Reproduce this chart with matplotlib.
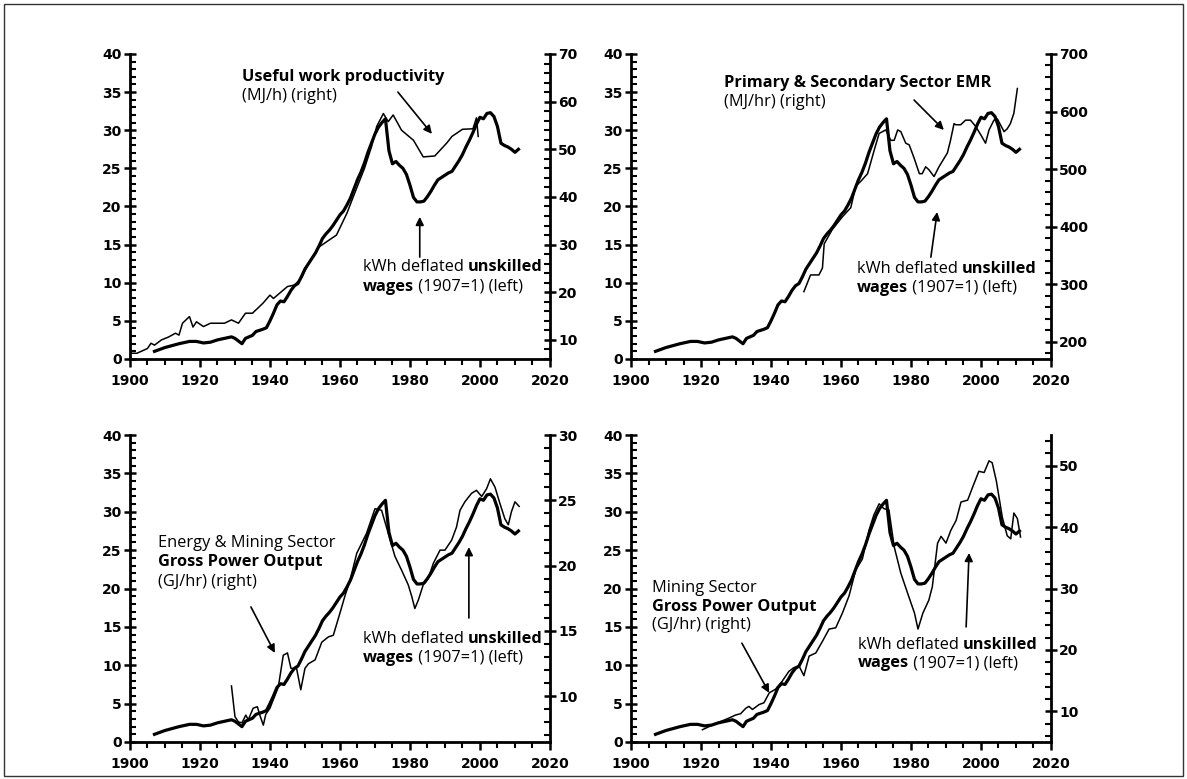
import matplotlib
matplotlib.use("Agg")
import matplotlib.pyplot as plt
from matplotlib.ticker import MultipleLocator
from matplotlib.patches import Rectangle

# kWh deflated unskilled wages (1907=1), left axis, same series in all panels
wage_years = [1907, 1910, 1914, 1917, 1919, 1921, 1923, 1925, 1927, 1929, 1930, 1932,
              1933, 1935, 1936, 1938, 1939, 1940, 1941, 1942, 1943, 1944, 1945, 1946,
              1947, 1948, 1949, 1950, 1951, 1952, 1953, 1954, 1955, 1956, 1957, 1958,
              1959, 1960, 1961, 1962, 1963, 1964, 1965, 1966, 1967, 1968, 1969, 1970,
              1971, 1972, 1973, 1974, 1975, 1976, 1977, 1978, 1979, 1980, 1981, 1982,
              1983, 1984, 1985, 1986, 1987, 1988, 1989, 1990, 1991, 1992, 1993, 1994,
              1995, 1996, 1997, 1998, 1999, 2000, 2001, 2002, 2003, 2004, 2005, 2006,
              2007, 2008, 2009, 2010, 2011]
wages = [1.0, 1.5, 2.0, 2.3, 2.3, 2.1, 2.2, 2.5, 2.7, 2.9, 2.7, 2.0,
         2.7, 3.1, 3.6, 3.9, 4.1, 5.0, 6.0, 7.1, 7.6, 7.5, 8.2, 9.0,
         9.6, 9.9, 10.8, 11.8, 12.5, 13.2, 13.9, 14.8, 15.8, 16.4, 16.9, 17.5,
         18.2, 18.9, 19.4, 20.2, 21.1, 22.3, 23.5, 24.5, 25.7, 27.1, 28.3, 29.5,
         30.4, 31.0, 31.5, 27.3, 25.6, 25.9, 25.4, 25.0, 24.2, 22.8, 21.2, 20.6,
         20.6, 20.7, 21.3, 22.0, 22.8, 23.5, 23.8, 24.1, 24.4, 24.6, 25.3, 26.0,
         26.8, 27.8, 28.7, 29.7, 30.8, 31.7, 31.5, 32.2, 32.3, 31.8, 30.5, 28.3,
         28.0, 27.8, 27.5, 27.1, 27.5]

# Useful work productivity (MJ/h), right axis
uw_years = [1900, 1902, 1905, 1906, 1907, 1909, 1911, 1913, 1914, 1915, 1917, 1918,
            1919, 1921, 1923, 1927, 1929, 1931, 1933, 1935, 1938, 1940, 1941, 1945,
            1947, 1949, 1951, 1954, 1957, 1959, 1962, 1964, 1967, 1969, 1970.5, 1972.4,
            1973.8, 1975.2, 1977.6, 1981, 1983.8, 1987.1, 1990.5, 1992, 1995, 1998,
            1999, 1999.5]
useful_work = [7.2, 7.2, 8.2, 9.3, 8.9, 10.0, 10.6, 11.4, 11.0, 13.5, 14.9, 12.7,
               13.8, 12.8, 13.5, 13.5, 14.2, 13.5, 15.6, 15.6, 17.7, 19.4, 18.7, 21.2,
               21.5, 23.0, 26.0, 29.5, 31.0, 32.0, 36.6, 40.4, 46.0, 50.5, 54.8, 57.5,
               55.8, 57.2, 54.0, 51.9, 48.4, 48.6, 51.3, 52.7, 54.2, 54.3, 56.6, 52.7]

# Primary & Secondary Sector EMR (MJ/hr), right axis
emr_years = [1949.4, 1951.3, 1953.7, 1954.7, 1955.2, 1957.5, 1960.4, 1962.8, 1964.2,
             1965.7, 1967.6, 1969.5, 1970.9, 1972.8, 1974.2, 1975.2, 1976.2, 1977.1,
             1978.5, 1979.5, 1980.9, 1982.4, 1983.2, 1984.2, 1985.1, 1986.6, 1988,
             1990.4, 1991.3, 1992.3, 1992.8, 1994.2, 1995.6, 1997, 1998.5, 1999.9,
             2001.3, 2002.3, 2003.7, 2004.7, 2006.6, 2007.5, 2008.4, 2009.4, 2010.4]
emr = [287, 316, 316, 328, 370, 395, 417, 433, 470,
       479, 492, 533, 562, 568, 550, 550, 568, 565,
       545, 542, 519, 492, 492, 504, 499, 487, 504,
       528, 550, 579, 577, 577, 585, 585, 574, 560,
       545, 568, 585, 587, 565, 570, 579, 597, 640]

# Energy & Mining Sector gross power output (GJ/hr), right axis
em_years = [1929, 1930, 1931, 1932, 1933.1, 1933.8, 1935.2, 1936.4, 1937.1, 1938.1,
            1938.8, 1940, 1942.4, 1943.8, 1945, 1946, 1947.6, 1948.8, 1950, 1951,
            1952.9, 1954.8, 1956.7, 1958.1, 1960, 1961.4, 1962.9, 1964.8, 1967.6, 1970,
            1971.9, 1973.8, 1975.7, 1977.6, 1979.5, 1980.5, 1981.4, 1982.4, 1983.8,
            1985.2, 1986.7, 1988.6, 1990, 1991.9, 1993.3, 1994.3, 1995.7, 1997.6, 1999,
            2000.5, 2001.9, 2003, 2004.3, 2005.7, 2007.1, 2008.1, 2009, 2010, 2011.2]
energy_mining = [10.79, 8.44, 8.03, 7.97, 8.56, 8.20, 9.09, 9.20, 8.56, 7.79,
                 8.62, 9.09, 10.73, 13.14, 13.32, 12.14, 12.14, 10.50, 12.14, 12.49,
                 12.79, 14.14, 14.55, 14.67, 16.37, 17.66, 18.90, 20.95, 22.48, 24.36,
                 24.24, 22.48, 20.72, 19.66, 18.54, 17.66, 16.72, 17.37, 18.54,
                 19.01, 20.19, 21.19, 21.19, 21.95, 22.95, 24.24, 24.89, 25.54, 25.77,
                 25.30, 25.89, 26.65, 26.01, 24.77, 23.60, 23.13, 24.13, 24.89, 24.54]

# Mining Sector gross power output (GJ/hr), right axis
mn_years = [1920.4, 1924.2, 1928, 1929.9, 1931.3, 1932.8, 1933.7, 1934.7, 1936.6, 1938,
            1939.5, 1941.3, 1943.2, 1945.1, 1946.5, 1948, 1949.4, 1950.9, 1952.8, 1954.7,
            1956.6, 1958.5, 1960.4, 1962.3, 1964.2, 1966.1, 1968, 1969.4, 1970.9, 1972.3,
            1973.7, 1975.2, 1977.1, 1979, 1981, 1982, 1983.4, 1985.1, 1986.1, 1987.6,
            1988.6, 1990, 1991.4, 1992.9, 1994.3, 1996.2, 1997.6, 1999.4, 2000.9, 2002.3,
            2003.2, 2004.4, 2006.1, 2007.5, 2008.5, 2009.4, 2010.4, 2011.3]
mining = [7.0, 8.0, 8.9, 9.4, 9.6, 10.5, 10.8, 10.3, 11.1, 11.4,
          13.0, 13.6, 14.9, 16.5, 17.1, 17.4, 15.8, 19.0, 19.5, 21.4,
          23.4, 23.6, 26.0, 28.8, 33.0, 34.8, 39.5, 42.0, 43.8, 43.0,
          42.8, 36.8, 32.5, 29.3, 26.0, 23.4, 26.0, 28.1, 30.3, 37.4,
          38.5, 37.4, 39.5, 41.1, 44.1, 44.4, 46.5, 49.1, 48.9, 50.8,
          50.5, 47.5, 41.6, 38.6, 38.1, 42.3, 41.4, 38.4]

FONT = "Open Sans"
FS = 11.8
plt.rcParams["font.family"] = "DejaVu Sans"

fig = plt.figure(figsize=(11.87, 7.79), dpi=100)
fig.patches.append(Rectangle((0.003, 0.004), 0.994, 0.991, transform=fig.transFigure,
                             fill=False, lw=1.0, ec="#333333"))

positions = [[0.1095, 0.5392, 0.3538, 0.3915],
             [0.5316, 0.5392, 0.3538, 0.3915],
             [0.1095, 0.0475, 0.3538, 0.3940],
             [0.5316, 0.0475, 0.3538, 0.3940]]


def style_axis(ax):
    ax.spines["top"].set_visible(False)
    for s in ["left", "right", "bottom"]:
        ax.spines[s].set_linewidth(2.0)
    ax.tick_params(axis="y", which="major", direction="inout", length=8, width=1.8,
                   labelsize=10, pad=2)
    ax.tick_params(axis="y", which="minor", direction="in", length=4, width=1.5)
    ax.tick_params(axis="x", which="major", direction="out", length=6, width=1.8,
                   labelsize=10, pad=5)
    ax.tick_params(axis="x", which="minor", direction="out", length=4, width=1.5)
    for lab in ax.get_xticklabels() + ax.get_yticklabels():
        lab.set_fontweight("bold")


def panel(pos, years, series, rlim, rmajor, rminor):
    ax = fig.add_axes(pos)
    ax.plot(wage_years, wages, color="black", lw=2.3, solid_joinstyle="round")
    ax.set_xlim(1900, 2020)
    ax.set_ylim(0, 40)
    ax.xaxis.set_major_locator(MultipleLocator(20))
    ax.xaxis.set_minor_locator(MultipleLocator(5))
    ax.yaxis.set_major_locator(MultipleLocator(5))
    ax.yaxis.set_minor_locator(MultipleLocator(1))
    ax.spines["right"].set_visible(False)
    style_axis(ax)

    ax2 = ax.twinx()
    ax2.plot(years, series, color="black", lw=1.1)
    ax2.set_ylim(*rlim)
    ax2.yaxis.set_major_locator(MultipleLocator(rmajor))
    ax2.yaxis.set_minor_locator(MultipleLocator(rminor))
    ax2.spines["left"].set_visible(False)
    ax2.spines["bottom"].set_visible(False)
    style_axis(ax2)
    return ax


def mixed(ax, x, y, parts):
    # draw text pieces one after another, alternating weights
    prev = None
    for txt, w in parts:
        if prev is None:
            prev = ax.text(x, y, txt, transform=ax.transAxes, fontsize=FS,
                           family=FONT, fontweight=w, va="center", ha="left")
        else:
            prev = ax.annotate(txt, xy=(1, 0), xycoords=prev, fontsize=FS,
                               family=FONT, fontweight=w, va="bottom", ha="left")


def arrow(ax, start, end):
    ax.annotate("", xy=end, xytext=start, xycoords="axes fraction",
                textcoords="axes fraction",
                arrowprops=dict(arrowstyle="-|>", color="black", lw=1.2,
                                mutation_scale=12, shrinkA=0, shrinkB=0))


def wage_label(ax, x, y1, y2):
    mixed(ax, x, y1, [("kWh deflated ", "normal"), ("unskilled", "bold")])
    mixed(ax, x, y2, [("wages", "bold"), (" (1907=1) (left)", "normal")])


ax1 = panel(positions[0], uw_years, useful_work, (6, 70), 10, 2)
mixed(ax1, 0.267, 0.925, [("Useful work productivity", "bold")])
mixed(ax1, 0.267, 0.862, [("(MJ/h) (right)", "normal")])
arrow(ax1, (0.638, 0.875), (0.719, 0.738))
wage_label(ax1, 0.555, 0.302, 0.236)
arrow(ax1, (0.690, 0.334), (0.690, 0.466))

ax2 = panel(positions[1], emr_years, emr, (170, 700), 100, 20)
mixed(ax2, 0.221, 0.905, [("Primary & Secondary Sector EMR", "bold")])
mixed(ax2, 0.221, 0.843, [("(MJ/hr) (right)", "normal")])
arrow(ax2, (0.674, 0.849), (0.745, 0.751))
wage_label(ax2, 0.538, 0.295, 0.233)
arrow(ax2, (0.714, 0.334), (0.729, 0.482))

ax3 = panel(positions[2], em_years, energy_mining, (6.5, 30), 5, 1)
mixed(ax3, 0.067, 0.648, [("Energy & Mining Sector", "normal")])
mixed(ax3, 0.067, 0.586, [("Gross Power Output", "bold")])
mixed(ax3, 0.067, 0.521, [("(GJ/hr) (right)", "normal")])
arrow(ax3, (0.288, 0.440), (0.345, 0.290))
wage_label(ax3, 0.555, 0.336, 0.274)
arrow(ax3, (0.807, 0.404), (0.807, 0.635))

ax4 = panel(positions[3], mn_years, mining, (5, 55), 10, 2)
mixed(ax4, 0.050, 0.502, [("Mining Sector", "normal")])
mixed(ax4, 0.050, 0.440, [("Gross Power Output", "bold")])
mixed(ax4, 0.050, 0.381, [("(GJ/hr) (right)", "normal")])
arrow(ax4, (0.264, 0.322), (0.329, 0.160))
wage_label(ax4, 0.540, 0.316, 0.257)
arrow(ax4, (0.798, 0.375), (0.805, 0.616))

fig.savefig("out.png", dpi=100)
